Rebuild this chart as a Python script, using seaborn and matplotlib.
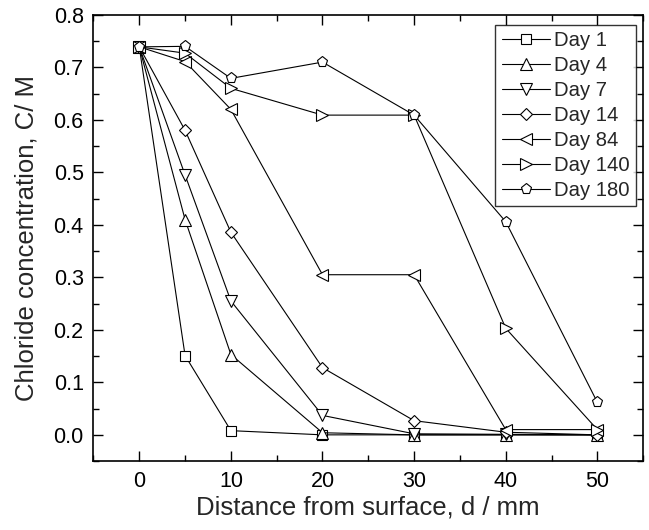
import matplotlib
matplotlib.use("Agg")
import matplotlib.pyplot as plt
import seaborn as sns
import pandas as pd
from matplotlib.ticker import MultipleLocator

distance = [0, 5, 10, 20, 30, 40, 50]
day1 = [0.739, 0.151, 0.008, 0.000, 0.000, 0.000, 0.000]
day4 = [0.739, 0.410, 0.153, 0.004, 0.000, 0.000, 0.000]
day7 = [0.739, 0.495, 0.255, 0.037, 0.002, 0.001, 0.000]
day14 = [0.739, 0.580, 0.386, 0.128, 0.027, 0.005, 0.000]
day84 = [0.739, 0.711, 0.620, 0.305, 0.305, 0.010, 0.010]
day140 = [0.739, 0.727, 0.660, 0.609, 0.609, 0.203, 0.010]
day180 = [0.739, 0.740, 0.679, 0.710, 0.609, 0.406, 0.062]

labels = ["Day 1", "Day 4", "Day 7", "Day 14", "Day 84", "Day 140", "Day 180"]
series = [day1, day4, day7, day14, day84, day140, day180]
markers = ["s", "^", "v", "D", "<", ">", "p"]
msizes = [7, 8, 8, 6, 8, 8, 8]

sns.set_style("ticks")
plt.rcParams["font.family"] = ["Liberation Sans", "DejaVu Sans"]

fig = plt.figure(figsize=(6.49, 5.30), dpi=100)
ax = fig.add_axes([0.144, 0.130, 0.847, 0.842])

for lab, vals, m, ms in zip(labels, series, markers, msizes):
    df = pd.DataFrame({"d": distance, "c": vals})
    sns.lineplot(data=df, x="d", y="c", ax=ax, color="black", lw=0.8,
                 marker=m, markersize=ms, markerfacecolor="white",
                 markeredgecolor="black", markeredgewidth=0.8,
                 label=lab, sort=False, errorbar=None)

ax.set_xlim(-5, 55)
ax.set_ylim(-0.05, 0.8)
ax.xaxis.set_major_locator(MultipleLocator(10))
ax.xaxis.set_minor_locator(MultipleLocator(5))
ax.yaxis.set_major_locator(MultipleLocator(0.1))
ax.yaxis.set_minor_locator(MultipleLocator(0.05))
ax.yaxis.set_major_formatter(matplotlib.ticker.FormatStrFormatter("%.1f"))
ax.tick_params(which="both", direction="in", top=True, right=True,
               labelsize=15.5, width=1.0, colors="black")
ax.tick_params(which="major", length=7, pad=7)
ax.tick_params(which="minor", length=4)
for sp in ax.spines.values():
    sp.set_linewidth(1.2)
    sp.set_color("black")

ax.set_xlabel("Distance from surface, d / mm", fontsize=18.5, labelpad=3)
ax.set_ylabel("Chloride concentration, C/ M", fontsize=18.5, labelpad=11)

leg = ax.legend(loc="upper right", bbox_to_anchor=(0.987, 0.978), fontsize=14.6,
                frameon=True, fancybox=False, edgecolor="black",
                handlelength=2.4, handletextpad=0.2, labelspacing=0.3,
                borderpad=0.3, borderaxespad=0.0)
leg.get_frame().set_linewidth(1.0)

fig.savefig("out.png", dpi=100)
